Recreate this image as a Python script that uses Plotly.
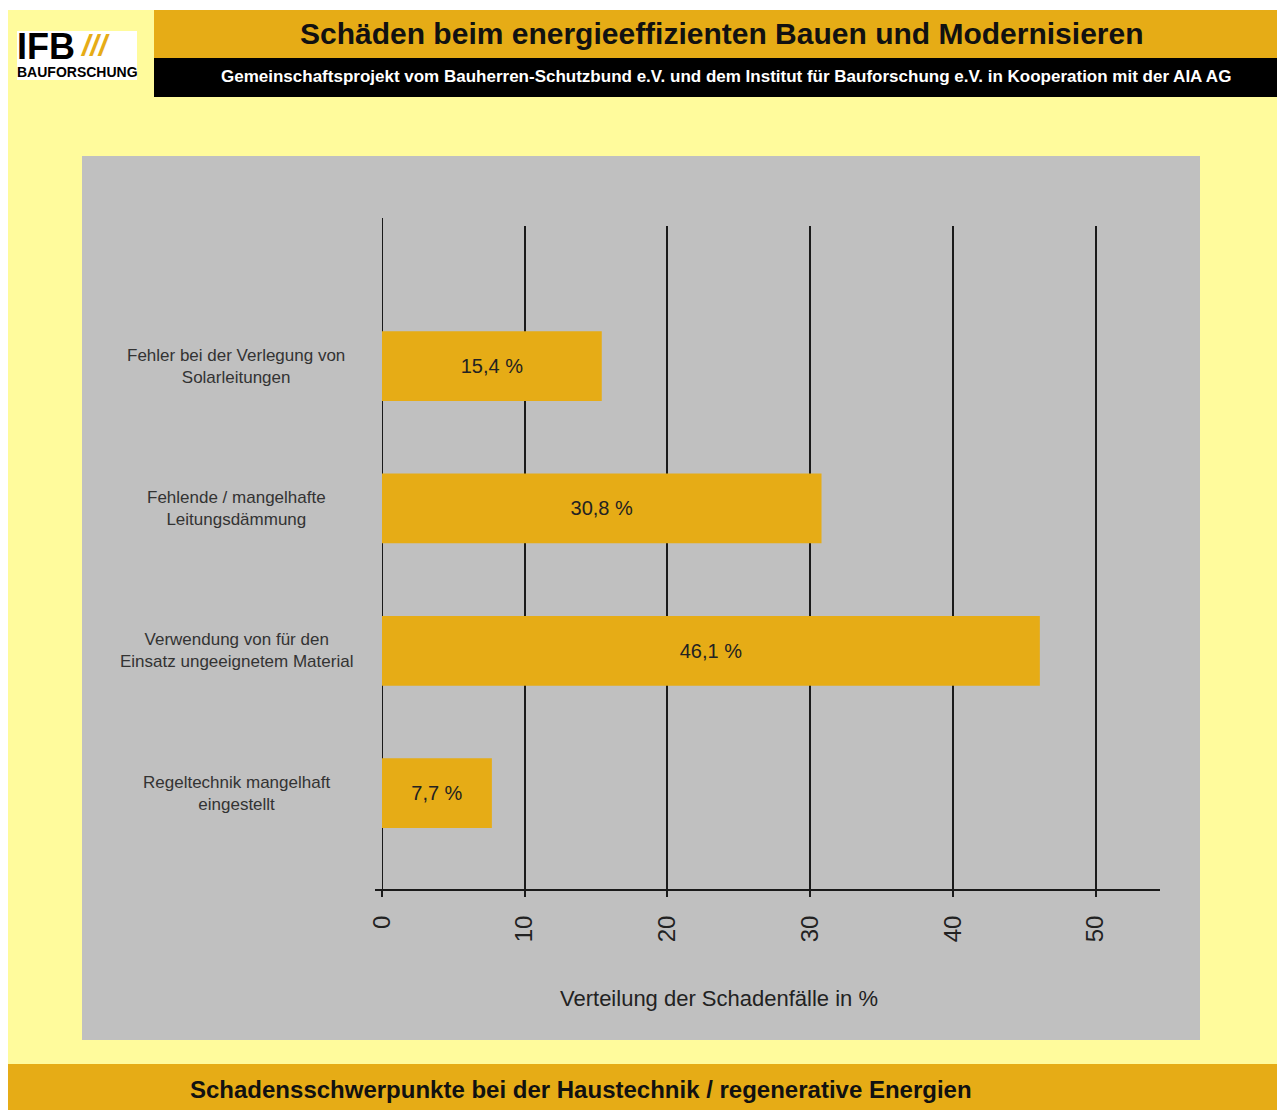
import plotly.graph_objects as go

categories = [
    "Fehler bei der Verlegung von<br>Solarleitungen",
    "Fehlende / mangelhafte<br>Leitungsdämmung",
    "Verwendung von für den<br>Einsatz ungeeignetem Material",
    "Regeltechnik mangelhaft<br>eingestellt",
]
values = [15.4, 30.8, 46.1, 7.7]
x_ticks = [0, 10, 20, 30, 40, 50]

title = "Schäden beim energieeffizienten Bauen und Modernisieren"
subtitle = ("Gemeinschaftsprojekt vom Bauherren-Schutzbund e.V. und dem Institut für "
            "Bauforschung e.V. in Kooperation mit der AIA AG")
footer = "Schadensschwerpunkte bei der Haustechnik / regenerative Energien"
x_title = "Verteilung der Schadenfälle in %"

W, H = 1285, 1110
OFF = 8  # page body margin
YELLOW = "#FFFB9C"
ORANGE = "#E6AC16"
GRAY = "#C0C0C0"
LINE = "#1a1a1a"
FONT = "Liberation Sans, Arial"

def px(x):
    return (x - OFF) / W

def py(y):
    return 1 - (y - OFF) / H

labels = [f"{v:.1f}".replace(".", ",") + " %" for v in values]

fig = go.Figure(go.Bar(
    x=values, y=categories, orientation="h",
    marker=dict(color=ORANGE, line=dict(width=0)),
    text=labels, textposition="inside", insidetextanchor="middle",
    textfont=dict(family=FONT, size=20, color="#222"),
    hoverinfo="skip",
))

RIGHT = px(1300)
BOTTOM = py(1125)
shapes = [
    dict(type="rect", xref="paper", yref="paper", x0=px(7), x1=RIGHT, y0=BOTTOM, y1=py(10),
         fillcolor=YELLOW, line=dict(width=0), layer="below"),
    dict(type="rect", xref="paper", yref="paper", x0=px(154), x1=RIGHT, y0=py(58), y1=py(10),
         fillcolor=ORANGE, line=dict(width=0), layer="below"),
    dict(type="rect", xref="paper", yref="paper", x0=px(154), x1=RIGHT, y0=py(97), y1=py(58),
         fillcolor="#000000", line=dict(width=0), layer="below"),
    dict(type="rect", xref="paper", yref="paper", x0=px(17), x1=px(137), y0=py(80), y1=py(31),
         fillcolor="#FFFFFF", line=dict(width=0), layer="below"),
    dict(type="rect", xref="paper", yref="paper", x0=px(82), x1=px(1200), y0=py(1040), y1=py(156),
         fillcolor=GRAY, line=dict(width=0), layer="below"),
    dict(type="rect", xref="paper", yref="paper", x0=px(7), x1=RIGHT, y0=BOTTOM, y1=py(1064),
         fillcolor=ORANGE, line=dict(width=0), layer="below"),
    dict(type="line", xref="x", yref="paper", x0=0, x1=0, y0=py(890), y1=py(218),
         line=dict(color=LINE, width=2), layer="below"),
    dict(type="line", xref="paper", yref="paper", x0=px(375), x1=px(1160), y0=py(890), y1=py(890),
         line=dict(color=LINE, width=2)),
]

def ann(text, x, y, size, color="#111", xanchor="center", yref="paper", yval=None, align="center"):
    return dict(text=text, xref="paper", yref=yref, x=px(x),
                y=py(y) if yval is None else yval,
                xanchor=xanchor, yanchor="middle", align=align, showarrow=False,
                font=dict(family=FONT, size=size, color=color))

annotations = [
    ann("<b>" + title + "</b>", 722, 34, 30),
    ann("<b>" + subtitle + "</b>", 726, 76, 17, color="#FFFFFF"),
    ann("<b>" + footer + "</b>", 581, 1089, 24),
    ann(x_title, 719, 998, 22, color="#222"),
    ann("<b>IFB</b>", 15, 47, 36, color="#000", xanchor="left"),
    ann("<b><i>///</i></b>", 78, 46, 30, color=ORANGE, xanchor="left"),
    ann("<b>BAUFORSCHUNG</b>", 15, 72, 14, color="#000", xanchor="left"),
]

for c in categories:
    annotations.append(ann(c, 236, 0, 17, color="#333", yref="y", yval=c))

fig.update_layout(
    template="none",
    width=W, height=H, autosize=False,
    margin=dict(l=0, r=0, t=0, b=0, pad=0),
    paper_bgcolor="#FFFFFF", plot_bgcolor="rgba(0,0,0,0)",
    showlegend=False, bargap=0.51,
    shapes=shapes, annotations=annotations,
    xaxis=dict(domain=[px(382), px(1160)], range=[0, (1160 - 382) / 14.27], automargin=False,
               tickvals=x_ticks, ticktext=[str(t) for t in x_ticks], tickangle=-90,
               showgrid=True, gridcolor=LINE, gridwidth=2, zeroline=False,
               showline=False, ticks="outside", ticklen=6, tickwidth=2, tickcolor=LINE,
               ticklabelstandoff=9,
               tickfont=dict(family=FONT, size=24, color="#222")),
    yaxis=dict(domain=[py(890), py(226)], range=[3.68, -0.984], showticklabels=False,
               automargin=False,
               showgrid=False, zeroline=False, showline=False, ticks=""),
)

fig.write_html("out.html")
